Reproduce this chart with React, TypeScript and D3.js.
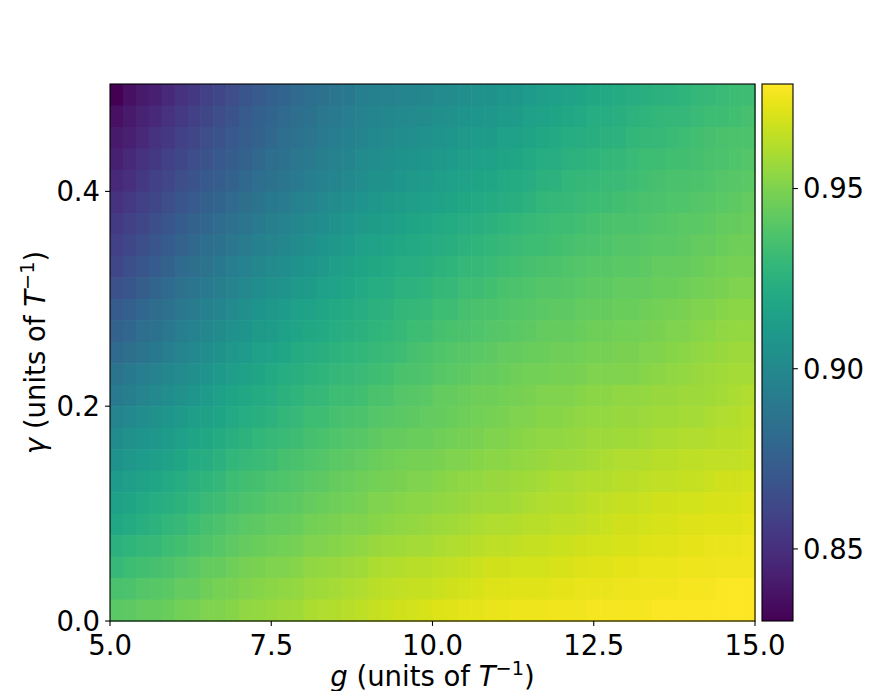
import * as d3 from 'd3';

// grid: 50 values of g (5 .. 15, step 0.2) and 25 values of gamma (0 .. 0.5, step 0.02)
const gEdges = d3.range(51).map((i) => 5 + i * 0.2);
const gammaLow = d3.range(25).map((i) => +(0.48 - i * 0.02).toFixed(2)); // top row first

// fidelity, one row per gamma value, top (gamma = 0.48) to bottom (gamma = 0)
const row00 = [0.830,0.836,0.840,0.843,0.847,0.851,0.854,0.858,0.862,0.865,0.869,0.872,0.875,0.878,0.881,0.883,0.886,0.888,0.890,0.893,0.895,0.896,0.897,0.898,0.899,0.901,0.902,0.904,0.905,0.906,0.908,0.909,0.911,0.913,0.914,0.916,0.917,0.919,0.920,0.921,0.923,0.924,0.925,0.926,0.927,0.929,0.930,0.931,0.932,0.933];
const row01 = [0.836,0.840,0.844,0.847,0.851,0.855,0.858,0.862,0.865,0.868,0.872,0.875,0.878,0.881,0.884,0.886,0.889,0.891,0.893,0.896,0.898,0.899,0.900,0.901,0.902,0.904,0.905,0.907,0.908,0.909,0.911,0.912,0.914,0.916,0.917,0.919,0.920,0.922,0.923,0.924,0.926,0.927,0.928,0.929,0.929,0.931,0.932,0.933,0.934,0.935];
const row02 = [0.840,0.843,0.847,0.851,0.854,0.858,0.861,0.865,0.868,0.871,0.874,0.877,0.880,0.883,0.886,0.888,0.891,0.893,0.895,0.898,0.900,0.901,0.903,0.904,0.905,0.907,0.908,0.910,0.911,0.912,0.914,0.915,0.917,0.919,0.920,0.922,0.923,0.924,0.925,0.926,0.928,0.929,0.930,0.931,0.932,0.934,0.935,0.936,0.937,0.937];
const row03 = [0.843,0.847,0.851,0.854,0.858,0.862,0.865,0.868,0.871,0.874,0.877,0.880,0.883,0.886,0.889,0.891,0.894,0.896,0.898,0.901,0.903,0.904,0.906,0.907,0.908,0.910,0.911,0.913,0.914,0.915,0.917,0.918,0.920,0.922,0.923,0.925,0.926,0.927,0.928,0.929,0.931,0.932,0.933,0.934,0.934,0.935,0.936,0.937,0.938,0.939];
const row04 = [0.847,0.850,0.854,0.858,0.861,0.865,0.868,0.871,0.874,0.877,0.880,0.883,0.886,0.888,0.891,0.893,0.896,0.898,0.900,0.903,0.905,0.906,0.908,0.910,0.911,0.913,0.914,0.916,0.917,0.918,0.920,0.921,0.923,0.925,0.926,0.928,0.929,0.930,0.931,0.931,0.933,0.934,0.935,0.936,0.936,0.937,0.938,0.939,0.940,0.941];
const row05 = [0.851,0.854,0.858,0.862,0.865,0.869,0.872,0.875,0.878,0.881,0.884,0.887,0.890,0.892,0.895,0.897,0.900,0.902,0.904,0.907,0.909,0.910,0.912,0.913,0.914,0.916,0.917,0.919,0.920,0.921,0.923,0.924,0.926,0.928,0.929,0.930,0.931,0.932,0.933,0.934,0.935,0.936,0.937,0.938,0.938,0.939,0.940,0.941,0.942,0.943];
const row06 = [0.855,0.858,0.862,0.866,0.869,0.873,0.876,0.879,0.882,0.885,0.888,0.891,0.894,0.896,0.899,0.901,0.903,0.906,0.908,0.910,0.912,0.913,0.915,0.917,0.918,0.920,0.921,0.923,0.924,0.925,0.927,0.928,0.930,0.931,0.932,0.933,0.934,0.935,0.936,0.937,0.937,0.938,0.939,0.940,0.941,0.941,0.942,0.943,0.944,0.945];
const row07 = [0.858,0.862,0.866,0.869,0.873,0.877,0.880,0.883,0.886,0.889,0.892,0.895,0.897,0.899,0.902,0.904,0.907,0.909,0.911,0.914,0.916,0.917,0.919,0.920,0.921,0.923,0.924,0.926,0.927,0.928,0.930,0.931,0.932,0.933,0.934,0.935,0.936,0.937,0.938,0.939,0.939,0.940,0.941,0.941,0.942,0.943,0.944,0.945,0.946,0.946];
const row08 = [0.862,0.866,0.870,0.873,0.877,0.881,0.884,0.887,0.890,0.893,0.896,0.899,0.901,0.903,0.906,0.908,0.910,0.913,0.915,0.917,0.919,0.920,0.922,0.923,0.924,0.926,0.927,0.929,0.930,0.931,0.933,0.934,0.935,0.936,0.937,0.938,0.939,0.940,0.940,0.941,0.941,0.942,0.943,0.943,0.944,0.945,0.946,0.947,0.948,0.948];
const row09 = [0.867,0.870,0.874,0.878,0.881,0.885,0.888,0.891,0.894,0.897,0.900,0.903,0.905,0.907,0.910,0.912,0.914,0.916,0.918,0.920,0.922,0.923,0.925,0.926,0.927,0.929,0.930,0.932,0.933,0.934,0.936,0.937,0.938,0.939,0.939,0.940,0.941,0.942,0.942,0.943,0.943,0.944,0.945,0.945,0.946,0.947,0.948,0.949,0.950,0.950];
const row10 = [0.872,0.875,0.879,0.882,0.885,0.889,0.892,0.895,0.898,0.901,0.904,0.907,0.909,0.911,0.914,0.916,0.918,0.920,0.921,0.923,0.925,0.926,0.928,0.929,0.930,0.932,0.933,0.935,0.936,0.937,0.938,0.939,0.940,0.941,0.942,0.942,0.943,0.944,0.944,0.945,0.945,0.946,0.947,0.948,0.949,0.950,0.951,0.952,0.953,0.953];
const row11 = [0.876,0.879,0.883,0.886,0.889,0.893,0.896,0.899,0.902,0.905,0.907,0.910,0.912,0.914,0.917,0.919,0.920,0.922,0.924,0.925,0.927,0.928,0.930,0.932,0.933,0.935,0.936,0.937,0.938,0.939,0.940,0.941,0.942,0.943,0.944,0.944,0.945,0.946,0.946,0.947,0.947,0.948,0.949,0.950,0.951,0.952,0.953,0.954,0.955,0.955];
const row12 = [0.881,0.884,0.887,0.890,0.893,0.897,0.900,0.903,0.906,0.909,0.911,0.914,0.916,0.918,0.921,0.923,0.924,0.926,0.927,0.928,0.930,0.931,0.933,0.935,0.936,0.938,0.939,0.940,0.941,0.942,0.943,0.944,0.945,0.945,0.946,0.946,0.947,0.948,0.948,0.949,0.949,0.950,0.951,0.952,0.953,0.954,0.955,0.956,0.957,0.957];
const row13 = [0.887,0.890,0.893,0.896,0.899,0.901,0.904,0.907,0.910,0.913,0.915,0.917,0.920,0.922,0.924,0.926,0.927,0.929,0.930,0.931,0.933,0.934,0.936,0.937,0.938,0.940,0.941,0.942,0.943,0.944,0.945,0.946,0.947,0.947,0.948,0.948,0.949,0.950,0.950,0.951,0.951,0.952,0.953,0.954,0.955,0.956,0.957,0.958,0.959,0.959];
const row14 = [0.891,0.894,0.897,0.900,0.903,0.905,0.908,0.911,0.914,0.917,0.919,0.921,0.923,0.925,0.927,0.929,0.930,0.932,0.933,0.934,0.936,0.937,0.939,0.940,0.941,0.943,0.944,0.945,0.946,0.946,0.947,0.948,0.949,0.950,0.951,0.951,0.952,0.953,0.953,0.954,0.954,0.955,0.956,0.956,0.957,0.957,0.958,0.959,0.960,0.961];
const row15 = [0.897,0.900,0.903,0.905,0.908,0.910,0.913,0.915,0.917,0.920,0.922,0.924,0.926,0.928,0.930,0.932,0.933,0.935,0.936,0.937,0.939,0.940,0.941,0.942,0.943,0.944,0.945,0.946,0.947,0.948,0.949,0.950,0.951,0.952,0.952,0.953,0.954,0.955,0.955,0.956,0.956,0.957,0.958,0.958,0.959,0.959,0.960,0.961,0.962,0.963];
const row16 = [0.902,0.905,0.907,0.909,0.912,0.914,0.917,0.919,0.921,0.924,0.926,0.928,0.930,0.931,0.933,0.935,0.936,0.938,0.939,0.940,0.942,0.943,0.944,0.945,0.945,0.946,0.947,0.948,0.949,0.950,0.951,0.952,0.953,0.954,0.954,0.955,0.956,0.957,0.957,0.958,0.958,0.959,0.960,0.960,0.961,0.961,0.962,0.963,0.963,0.964];
const row17 = [0.906,0.909,0.911,0.913,0.916,0.918,0.921,0.923,0.925,0.928,0.930,0.931,0.933,0.935,0.936,0.938,0.939,0.941,0.942,0.943,0.945,0.946,0.947,0.948,0.948,0.949,0.950,0.951,0.952,0.953,0.953,0.954,0.955,0.956,0.957,0.957,0.958,0.959,0.960,0.961,0.961,0.962,0.963,0.963,0.964,0.964,0.965,0.965,0.965,0.966];
const row18 = [0.911,0.913,0.916,0.918,0.920,0.922,0.925,0.927,0.929,0.932,0.934,0.935,0.937,0.938,0.939,0.941,0.942,0.944,0.945,0.946,0.947,0.948,0.949,0.950,0.951,0.952,0.953,0.954,0.955,0.956,0.956,0.957,0.958,0.959,0.960,0.960,0.961,0.962,0.962,0.963,0.963,0.964,0.965,0.965,0.966,0.966,0.967,0.968,0.968,0.969];
const row19 = [0.915,0.917,0.920,0.922,0.924,0.926,0.928,0.931,0.933,0.935,0.937,0.938,0.940,0.941,0.942,0.944,0.945,0.946,0.947,0.948,0.950,0.951,0.952,0.953,0.953,0.954,0.955,0.956,0.957,0.958,0.958,0.959,0.960,0.961,0.962,0.962,0.963,0.964,0.965,0.966,0.966,0.967,0.968,0.968,0.969,0.969,0.970,0.970,0.970,0.971];
const row20 = [0.919,0.921,0.924,0.926,0.928,0.930,0.932,0.935,0.937,0.939,0.941,0.942,0.943,0.944,0.945,0.947,0.948,0.949,0.950,0.951,0.952,0.953,0.954,0.955,0.956,0.957,0.958,0.959,0.960,0.961,0.961,0.962,0.963,0.963,0.964,0.964,0.965,0.966,0.967,0.968,0.968,0.969,0.970,0.970,0.971,0.971,0.972,0.972,0.972,0.973];
const row21 = [0.925,0.927,0.929,0.930,0.932,0.934,0.936,0.938,0.940,0.942,0.944,0.945,0.946,0.947,0.948,0.950,0.951,0.952,0.953,0.954,0.956,0.957,0.958,0.959,0.959,0.960,0.961,0.962,0.963,0.964,0.964,0.965,0.966,0.966,0.967,0.967,0.968,0.969,0.969,0.970,0.970,0.971,0.972,0.972,0.973,0.973,0.974,0.974,0.974,0.975];
const row22 = [0.930,0.932,0.934,0.935,0.937,0.939,0.941,0.943,0.944,0.946,0.948,0.949,0.950,0.951,0.952,0.954,0.955,0.956,0.957,0.958,0.960,0.961,0.962,0.963,0.963,0.964,0.965,0.966,0.967,0.968,0.968,0.969,0.969,0.969,0.970,0.970,0.971,0.972,0.972,0.973,0.973,0.974,0.974,0.974,0.975,0.975,0.975,0.976,0.976,0.976];
const row23 = [0.936,0.937,0.939,0.940,0.941,0.943,0.944,0.946,0.948,0.949,0.951,0.952,0.953,0.954,0.955,0.957,0.958,0.959,0.960,0.961,0.963,0.964,0.965,0.966,0.966,0.967,0.968,0.969,0.970,0.971,0.971,0.972,0.972,0.972,0.973,0.973,0.974,0.974,0.974,0.975,0.975,0.976,0.976,0.976,0.977,0.977,0.977,0.978,0.978,0.978];
const row24 = [0.941,0.942,0.943,0.944,0.945,0.947,0.948,0.950,0.951,0.952,0.954,0.955,0.956,0.957,0.958,0.960,0.961,0.962,0.963,0.964,0.966,0.967,0.968,0.969,0.970,0.971,0.972,0.973,0.973,0.974,0.974,0.975,0.975,0.975,0.976,0.976,0.976,0.977,0.977,0.977,0.977,0.977,0.978,0.978,0.978,0.978,0.978,0.979,0.979,0.979];

const fidelity = [row00, row01, row02, row03, row04, row05, row06, row07, row08, row09, row10, row11, row12,
  row13, row14, row15, row16, row17, row18, row19, row20, row21, row22, row23, row24];

const xTicks = [5, 7.5, 10, 12.5, 15];
const yTicks = [0, 0.2, 0.4];
const cTicks = [0.85, 0.9, 0.95];

const width = 881;
const height = 699;
const plot = { left: 110, right: 755, top: 84, bottom: 621 };
const cbar = { left: 762, right: 793 };
const fontSize = 27.5;
const font = 'DejaVu Sans';

const App = () => {
  const xScale = d3.scaleLinear().domain([5, 15]).range([plot.left, plot.right]);
  const yScale = d3.scaleLinear().domain([0, 0.5]).range([plot.bottom, plot.top]);

  const all = fidelity.flat();
  const [vMin, vMax] = d3.extent(all) as [number, number];
  const color = d3.scaleSequential(d3.interpolateViridis).domain([vMin, vMax]);
  const cScale = d3.scaleLinear().domain([vMin, vMax]).range([plot.bottom, plot.top]);

  const stops = d3.range(0, 1.0001, 0.025);
  const tick = 4.9;

  const unitLabel = (sym: string) => (
    <>
      <tspan fontStyle="italic">{sym}</tspan>
      <tspan> (units of </tspan>
      <tspan fontStyle="italic">T</tspan>
      <tspan dy={-11} fontSize={fontSize * 0.7}>−1</tspan>
      <tspan dy={11}>)</tspan>
    </>
  );

  return (
    <svg width={width} height={height} style={{ display: 'block', margin: -8 }} fontFamily={font}>
      <rect width={width} height={height} fill="#fff" />
      <defs>
        <linearGradient id="viridis" x1="0" y1="1" x2="0" y2="0">
          {stops.map((t) => (
            <stop key={t} offset={t} stopColor={d3.interpolateViridis(t)} />
          ))}
        </linearGradient>
      </defs>

      {/* heatmap cells */}
      <g>
        {fidelity.map((row, r) =>
          row.map((v, c) => {
            const x0 = xScale(gEdges[c]);
            const x1 = xScale(gEdges[c + 1]);
            const y0 = yScale(gammaLow[r] + 0.02);
            const y1 = yScale(gammaLow[r]);
            return (
              <rect
                key={`${r}-${c}`}
                x={x0}
                y={y0}
                width={x1 - x0 + 0.6}
                height={y1 - y0 + 0.6}
                fill={color(v)}
              />
            );
          })
        )}
      </g>
      <rect x={plot.left} y={plot.top} width={plot.right - plot.left} height={plot.bottom - plot.top}
        fill="none" stroke="#000" strokeWidth={1.1} />

      {/* x axis */}
      {xTicks.map((t) => (
        <g key={t} transform={`translate(${xScale(t)},${plot.bottom})`}>
          <line y1={0} y2={tick} stroke="#000" strokeWidth={1.1} />
          <text y={34} textAnchor="middle" fontSize={fontSize}>{t.toFixed(1)}</text>
        </g>
      ))}
      <text x={(plot.left + plot.right) / 2} y={686} textAnchor="middle" fontSize={fontSize}>
        {unitLabel('g')}
      </text>

      {/* y axis */}
      {yTicks.map((t) => (
        <g key={t} transform={`translate(${plot.left},${yScale(t)})`}>
          <line x1={0} x2={-tick} stroke="#000" strokeWidth={1.1} />
          <text x={-tick - 5} dy="0.36em" textAnchor="end" fontSize={fontSize}>{t.toFixed(1)}</text>
        </g>
      ))}
      <text transform={`translate(45,${(plot.top + plot.bottom) / 2}) rotate(-90)`} textAnchor="middle" fontSize={fontSize}>
        {unitLabel('γ')}
      </text>

      {/* colorbar */}
      <rect x={cbar.left} y={plot.top} width={cbar.right - cbar.left} height={plot.bottom - plot.top}
        fill="url(#viridis)" stroke="#000" strokeWidth={1.1} />
      {cTicks.map((t) => (
        <g key={t} transform={`translate(${cbar.right},${cScale(t)})`}>
          <line x1={0} x2={tick} stroke="#000" strokeWidth={1.1} />
          <text x={tick + 5} dy="0.36em" textAnchor="start" fontSize={fontSize}>{t.toFixed(2)}</text>
        </g>
      ))}
    </svg>
  );
};

export default App;
